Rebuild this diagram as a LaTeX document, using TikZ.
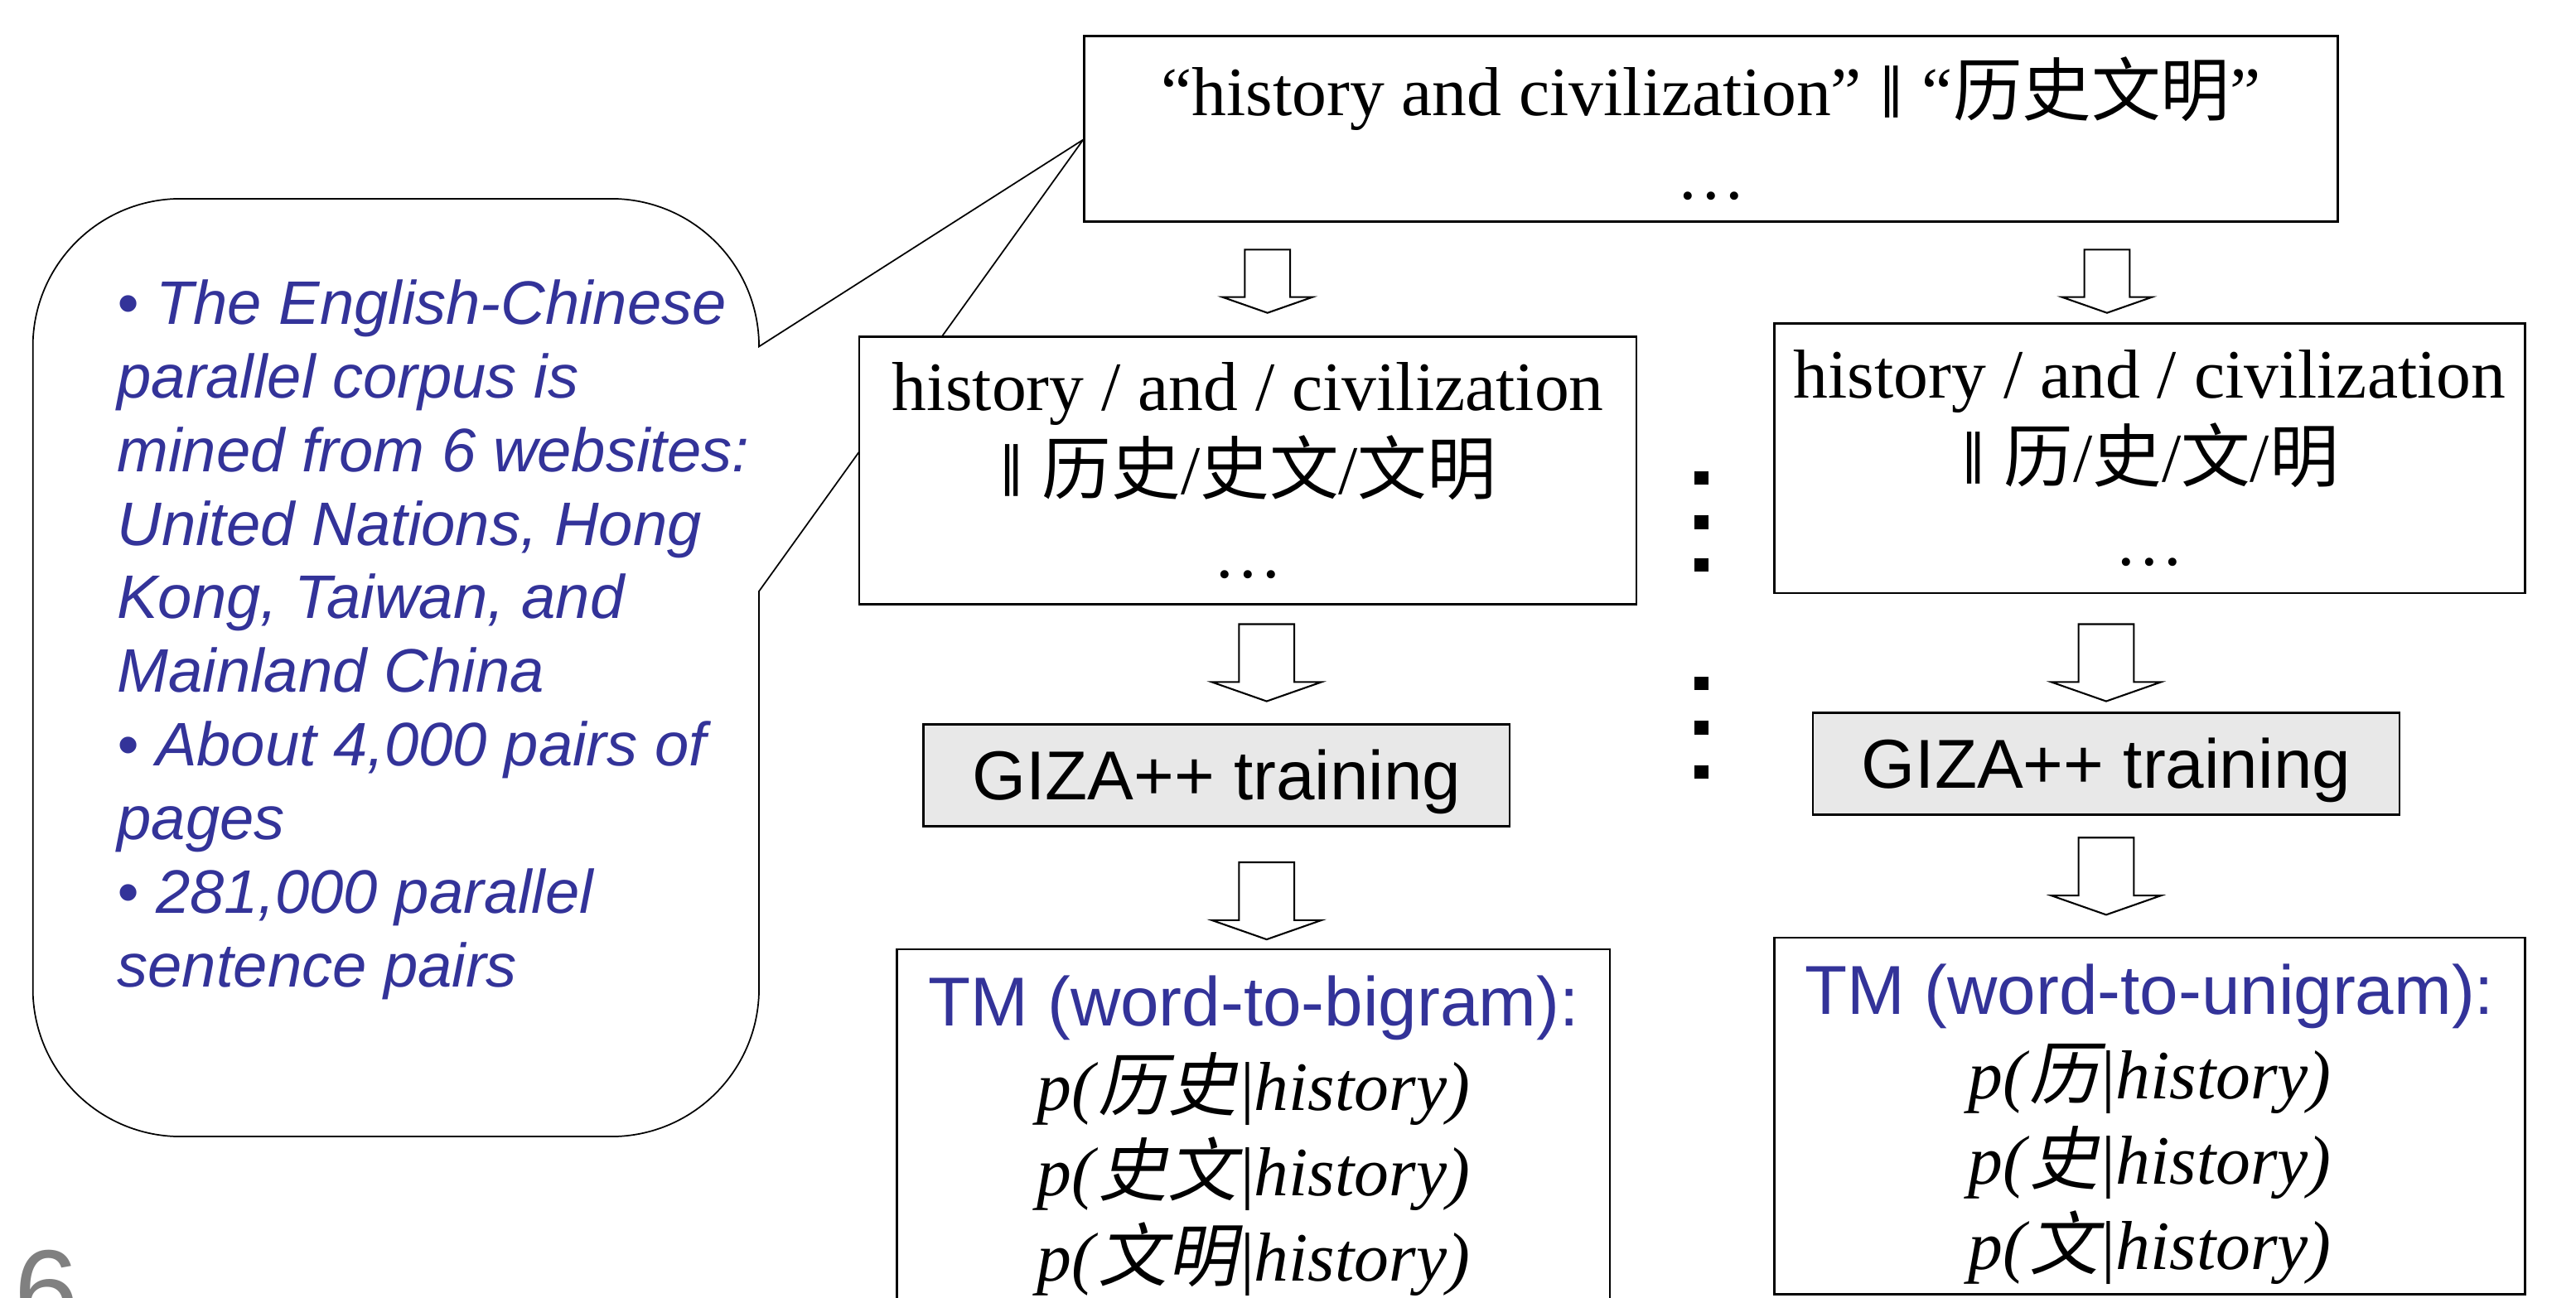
\documentclass[tikz,border=0pt]{standalone}
\usepackage{fontspec}
\setmainfont{Liberation Serif}
\setsansfont{Liberation Sans}
\newfontfamily\cjk{Noto Sans CJK SC}
\newfontfamily\cjkslant{Noto Sans CJK SC}[FakeSlant=0.2]
\newfontfamily\dvsans{DejaVu Sans}
\definecolor{noteblue}{RGB}{51,51,153}
\definecolor{gizagray}{RGB}{232,232,232}
\definecolor{slidegray}{RGB}{128,128,128}
\usetikzlibrary{calc,backgrounds}
\newcommand{\zh}[1]{{\cjk #1}}
\newcommand{\zhit}[1]{{\cjkslant #1}\kern1.2pt}
\newcommand{\dbar}{\raisebox{3.5pt}{\dvsans\fontsize{18}{20}\selectfont ‖}}
\newcommand{\hollowarrow}[2]{%
  \draw[hollow, shift={(#1)}, scale=#2] (-0.276,0) -- (0.276,0) -- (0.276,-0.578) -- (0.548,-0.578) -- (0,-0.77) -- (-0.548,-0.578) -- (-0.276,-0.578) -- cycle;}

\begin{document}
\begin{tikzpicture}[
  textbox/.style={draw, line width=0.7pt, fill=white, align=center, inner sep=0pt, font=\fontsize{24}{29}\selectfont},
  tmbox/.style={textbox, minimum height=4.34cm, font=\fontsize{24}{29.5}\selectfont},
  gizabox/.style={draw, line width=0.7pt, fill=gizagray, inner sep=0pt, minimum width=7.14cm, minimum height=1.24cm, text height=22pt, text depth=5pt, font=\sffamily\fontsize{24}{29}\selectfont},
  hollow/.style={draw, line width=0.6pt, fill=white, line join=miter},
  callout/.style={draw, line width=0.5pt, fill=white},
  notetext/.style={align=left, inner sep=0pt, text=noteblue, font=\sffamily\itshape\fontsize{21.3}{25.5}\selectfont},
  pagenum/.style={inner sep=0pt, text=slidegray, font=\sffamily\fontsize{40}{48}\selectfont}
]
  \useasboundingbox (0,0) rectangle (31.36,-15.8);
  \clip (0,0) rectangle (31.36,-15.8);

  % sentence pair and its segmentations
  \node[textbox, minimum width=15.26cm, minimum height=2.26cm] (sent) at (20.83,-1.57) {“history and civilization” \dbar\ “\zh{历史文明}”\\…};
  \node[textbox, minimum width=9.46cm, minimum height=3.26cm] (segA) at (15.19,-5.73) {history / and / civilization\\\dbar\ \zh{历史}/\zh{史文}/\zh{文明}\\…};
  \node[textbox, minimum width=9.14cm, minimum height=3.28cm] (segB) at (26.17,-5.58) {history / and / civilization\\\dbar\ \zh{历}/\zh{史}/\zh{文}/\zh{明}\\…};

  % training
  \node[gizabox] (gizaA) at (14.81,-9.44) {GIZA++ training};
  \node[gizabox] (gizaB) at (25.64,-9.30) {GIZA++ training};

  % translation models
  \node[tmbox, minimum width=8.68cm] (tmA) at (15.26,-13.73) {\rule{0pt}{23pt}\textcolor{noteblue}{\sffamily TM (word-to-bigram):}\\\textit{p(}\zhit{历史}|\textit{history)}\\\textit{p(}\zhit{史文}|\textit{history)}\\\textit{p(}\zhit{文明}|\textit{history)}};
  \node[tmbox, minimum width=9.14cm] (tmB) at (26.17,-13.59) {\rule{0pt}{23pt}\textcolor{noteblue}{\sffamily TM (word-to-unigram):}\\\textit{p(}\zhit{历}|\textit{history)}\\\textit{p(}\zhit{史}|\textit{history)}\\\textit{p(}\zhit{文}|\textit{history)}};

  % hollow arrows
  \coordinate (d1) at (15.43,-3.04);
  \coordinate (e1) at (25.65,-3.04);
  \coordinate (d2) at (15.42,-7.60);
  \coordinate (e2) at (25.64,-7.60);
  \coordinate (d3) at (15.42,-10.50);
  \coordinate (e3) at (25.64,-10.20);
  \hollowarrow{d1}{1}
  \hollowarrow{e1}{1}
  \hollowarrow{d2}{1.22}
  \hollowarrow{e2}{1.22}
  \hollowarrow{d3}{1.22}
  \hollowarrow{e3}{1.22}

  % vertical dots between the columns
  \foreach \y in {5.736,6.276,6.796,8.236,8.776,9.316}
    \fill (20.632,-\y) rectangle ++(0.168,-0.168);

  % callout with the corpus notes
  \coordinate (tip) at ([yshift=-0.13cm]sent.west);
  \begin{scope}[on background layer]
    \draw[callout] (9.24,-7.2) -- (9.24,-12.04) arc (0:-90:1.8) -- (2.2,-13.84) arc (270:180:1.8) -- (0.4,-4.22) arc (180:90:1.8) -- (7.44,-2.42) arc (90:0:1.8) -- (tip) -- cycle;
  \end{scope}
  \node[notetext, anchor=north west] (notes) at (1.42,-3.40) {• The English-Chinese\\parallel corpus is\\mined from 6 websites:\\United Nations, Hong\\Kong, Taiwan, and\\Mainland China\\• About 4,000 pairs of\\pages\\• 281,000 parallel\\sentence pairs};

  \node[pagenum, anchor=base west] (slide) at (0.17,-16.2) {6};
\end{tikzpicture}
\end{document}
